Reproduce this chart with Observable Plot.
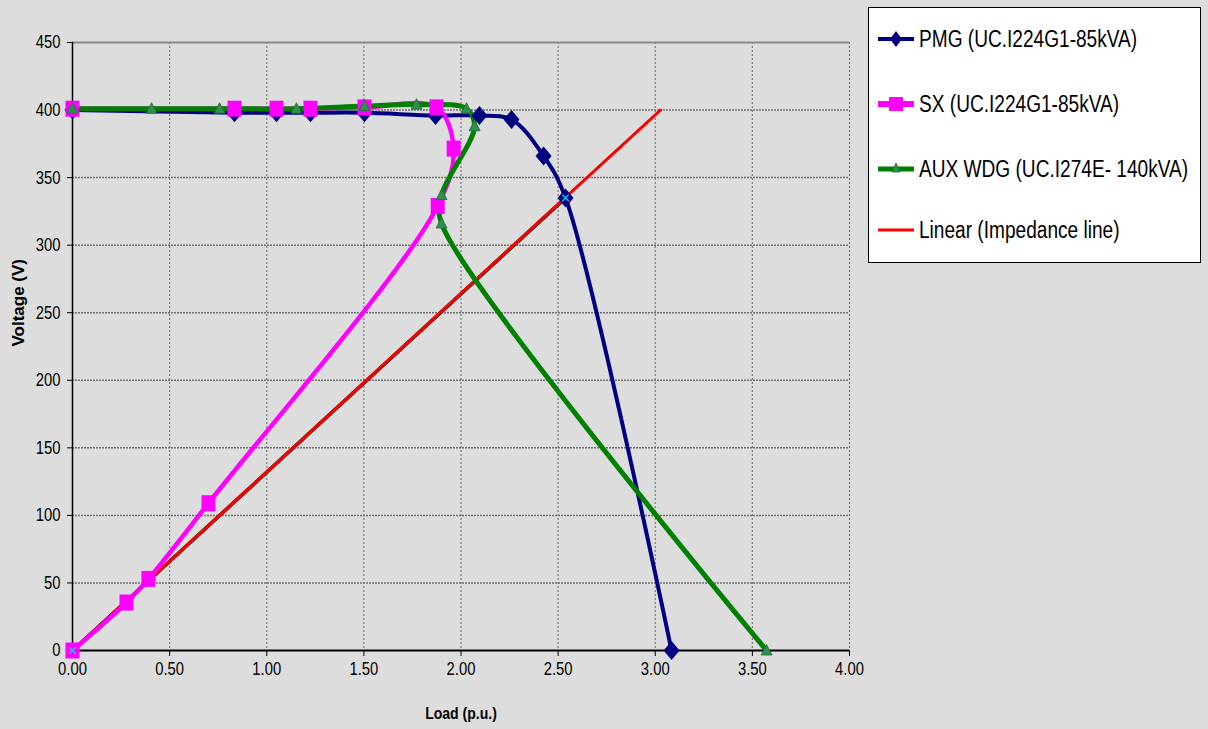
<!DOCTYPE html>
<html>
<head>
<meta charset="utf-8">
<script src="https://cdn.jsdelivr.net/npm/d3@7"></script>
<script src="https://cdn.jsdelivr.net/npm/@observablehq/plot@0.6"></script>
<style>
  html, body { margin: 0; padding: 0; background: #dddddd; }
  #wrap { position: relative; width: 1208px; height: 729px; background: #dddddd; overflow: hidden; }
  #legend { position: absolute; left: 868px; top: 7px; width: 333px; height: 256px; box-sizing: border-box;
            background: #ffffff; border: 1px solid #000; font-family: "Liberation Sans", Arial, sans-serif;
            font-size: 23px; color: #000; }
  .row { position: absolute; left: 0; height: 30px; display: flex; align-items: center; white-space: nowrap; }
  .row svg { margin-left: 9px; margin-right: 5px; flex: none; }
  .row span { display: inline-block; transform: scaleX(0.83); transform-origin: left center; }
</style>
</head>
<body>
<div id="wrap"><div id="chart"></div><div id="legend"></div></div>
<script>
// ---- data ----
const pmgLoad = [0, 0.834, 1.05, 1.225, 1.503, 1.869, 2.095, 2.26, 2.425, 2.538, 3.084];
const pmgVolt = [400, 398, 398, 398, 398, 396, 396, 393, 366, 335, 0];

const sxLoad = [0, 0.834, 1.05, 1.225, 1.503, 1.874, 1.962, 1.88, 0.70, 0.391, 0.278, 0];
const sxVolt = [401, 401, 401, 401, 402, 402, 371.5, 329, 109, 53, 35.5, 0];

const auxLoad = [0, 0.407, 0.757, 1.153, 1.503, 1.771, 2.028, 2.07, 1.90, 1.90, 3.573];
const auxVolt = [401, 401, 401, 401, 403, 404, 401, 388, 337, 316, 0];

const impLoad = [0, 2.538];
const impVolt = [0, 335];
const trendLoad = [0, 3.027];
const trendVolt = [0, 400];

const xTicks = [0, 0.5, 1, 1.5, 2, 2.5, 3, 3.5, 4];
const yTicks = [0, 50, 100, 150, 200, 250, 300, 350, 400, 450];

const seriesNames = ["PMG (UC.I224G1-85kVA)", "SX (UC.I224G1-85kVA)", "AUX WDG (UC.I274E- 140kVA)", "Linear (Impedance line)"];

const zip = (xs, ys) => xs.map((x, i) => ({x, y: ys[i]}));
const pmg = zip(pmgLoad, pmgVolt);
const sx = zip(sxLoad, sxVolt);
const aux = zip(auxLoad, auxVolt);
const imp = zip(impLoad, impVolt);
const trend = zip(trendLoad, trendVolt);

const diamond = {draw(ctx) { ctx.moveTo(0, -9.5); ctx.lineTo(8, 0); ctx.lineTo(0, 9.5); ctx.lineTo(-8, 0); ctx.closePath(); }};
const square = {draw(ctx) { ctx.moveTo(-7, -8); ctx.lineTo(7, -8); ctx.lineTo(7, 8); ctx.lineTo(-7, 8); ctx.closePath(); }};
const tri = {draw(ctx) { ctx.moveTo(0, -6); ctx.lineTo(5.5, 4.5); ctx.lineTo(-5.5, 4.5); ctx.closePath(); }};

const font = '"Liberation Sans", Arial, sans-serif';

const chart = Plot.plot({
  width: 1208,
  height: 729,
  marginLeft: 72,
  marginRight: 359,
  marginTop: 42,
  marginBottom: 79,
  style: {background: "#dddddd", fontFamily: font, fontSize: "18px", color: "#000", overflow: "visible"},
  x: {domain: [0, 4], label: null},
  y: {domain: [0, 450], label: null},
  marks: [
    Plot.ruleX(xTicks.filter(d => d > 0), {stroke: "#7a7a7a", strokeDasharray: "2,2", strokeWidth: 1.2}),
    Plot.ruleY(yTicks.filter(d => d > 0 && d < 450), {stroke: "#6f6f6f", strokeDasharray: "2,1", strokeWidth: 1.5}),
    Plot.ruleY([450], {stroke: "#8a8a8a", strokeWidth: 2}),
    Plot.axisX({ticks: xTicks, tickFormat: d3.format(".2f"), tickSize: 6, tickPadding: 5, fontSize: 18.5, stroke: "#000"}),
    Plot.axisY({ticks: yTicks, tickFormat: d3.format("d"), tickSize: 5, tickPadding: 7, fontSize: 18.5, stroke: "#000"}),
    Plot.ruleX([0], {stroke: "#000", strokeWidth: 1.5}),
    Plot.ruleY([0], {stroke: "#000", strokeWidth: 2}),
    Plot.text(["Load (p.u.)"], {frameAnchor: "bottom", dy: 68, fontWeight: "bold", fontSize: 16.5, fill: "#000", className: "ttl"}),
    Plot.text(["Voltage (V)"], {frameAnchor: "left", dx: -54, rotate: -90, fontWeight: "bold", fontSize: 17, fill: "#000", className: "ttly"}),
    Plot.line(imp, {x: "x", y: "y", stroke: "#000", strokeWidth: 3.5}),
    Plot.line(trend, {x: "x", y: "y", stroke: "#ff0000", strokeWidth: 3}),
    Plot.line(pmg, {x: "x", y: "y", stroke: "#000080", strokeWidth: 4, curve: "catmull-rom"}),
    Plot.line(sx, {x: "x", y: "y", stroke: "#ff00ff", strokeWidth: 4.5, curve: "catmull-rom"}),
    Plot.line(aux, {x: "x", y: "y", stroke: "#008000", strokeWidth: 5, curve: "catmull-rom"}),
    Plot.dot(pmg, {x: "x", y: "y", symbol: diamond, fill: "#000080", r: 8}),
    Plot.dot(sx, {x: "x", y: "y", symbol: square, fill: "#ff00ff", r: 8}),
    Plot.dot(aux, {x: "x", y: "y", symbol: tri, fill: "#2f8f4f", stroke: "#1d6e34", strokeWidth: 0.8, r: 5}),
    Plot.dot(imp, {x: "x", y: "y", symbol: "times", stroke: "#00e5ff", strokeWidth: 1.2, r: 3})
  ]
});
document.getElementById("chart").appendChild(chart);

// condense text horizontally (narrow face as in the original)
const squeeze = (sel, k) => chart.querySelectorAll(sel).forEach(t => {
  const tr = t.getAttribute("transform");
  if (tr) t.setAttribute("transform", tr + ` scale(${k},1)`);
});
squeeze('g[aria-label="x-axis tick label"] text, g[aria-label="y-axis tick label"] text', 0.8);
squeeze('g.ttl text', 0.85);

// ---- legend ----
const legend = document.getElementById("legend");
const legendDefs = [
  {name: seriesNames[0], color: "#000080", width: 4, marker: "diamond", top: 16},
  {name: seriesNames[1], color: "#ff00ff", width: 6, marker: "square", top: 81},
  {name: seriesNames[2], color: "#008000", width: 5, marker: "tri", top: 146},
  {name: seriesNames[3], color: "#ff0000", width: 3, marker: null, top: 207}
];
for (const d of legendDefs) {
  const row = document.createElement("div");
  row.className = "row";
  row.style.top = d.top + "px";
  let m = "";
  if (d.marker === "diamond") m = `<path d="M18,7 L24,15 L18,23 L12,15 Z" fill="${d.color}"/>`;
  if (d.marker === "square") m = `<rect x="11" y="8" width="14" height="14" fill="${d.color}"/>`;
  if (d.marker === "tri") m = `<path d="M18,9 L22,18 L14,18 Z" fill="#2f8f4f" stroke="#1d6e34" stroke-width="0.8"/>`;
  row.innerHTML = `<svg width="36" height="30"><line x1="0" y1="15" x2="36" y2="15" stroke="${d.color}" stroke-width="${d.width}"/>${m}</svg><span>${d.name}</span>`;
  legend.appendChild(row);
}
</script>
</body>
</html>
